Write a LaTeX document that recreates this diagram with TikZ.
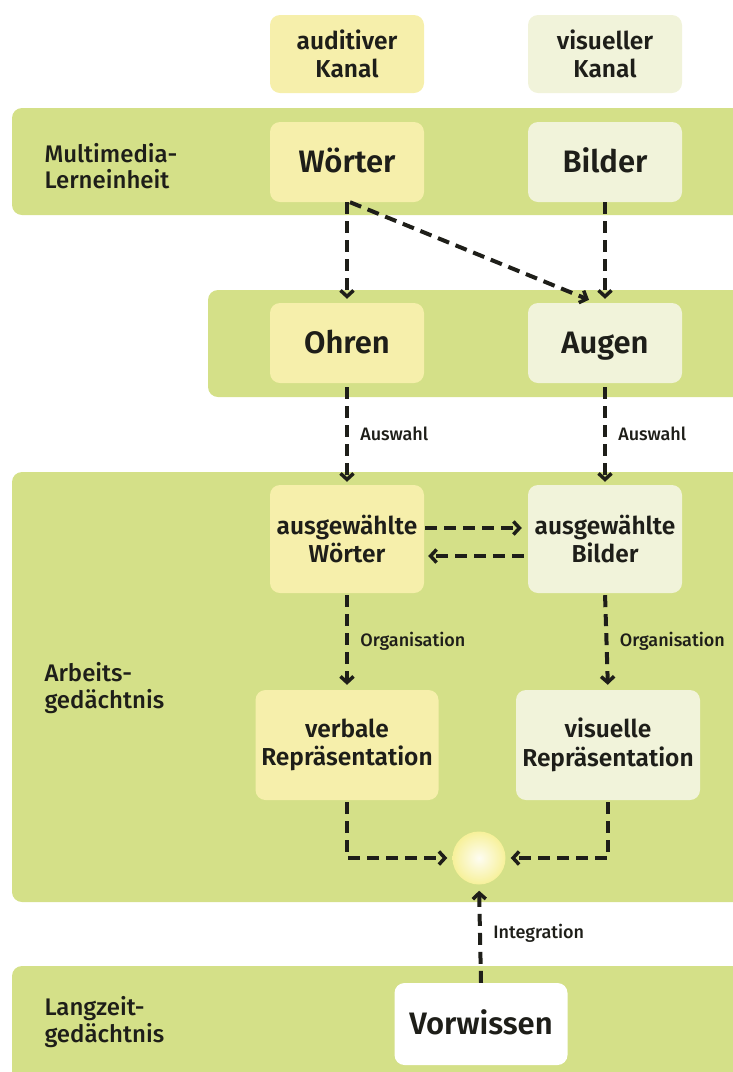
\documentclass[tikz,border=0pt]{standalone}
\usepackage{fontspec}
\setmainfont{Fira Sans}
\newfontfamily\fmed{Fira Sans Medium}
\newfontfamily\fsemi{Fira Sans SemiBold}
\usetikzlibrary{arrows.meta}
\definecolor{band}{RGB}{212,224,136}
\definecolor{ylw}{RGB}{246,239,171}
\definecolor{lgt}{RGB}{241,243,218}
\definecolor{ink}{RGB}{30,30,25}
\begin{document}
\begin{tikzpicture}[x=1pt,y=-1pt,
  box/.style={rounded corners=10pt, inner sep=0pt, align=center, text=ink},
  ybox/.style={box, fill=ylw},
  lbox/.style={box, fill=lgt},
  wbox/.style={box, fill=white},
  big/.style={font=\fsemi\fontsize{31}{36}\selectfont, text height=21pt, text depth=1pt},
  mid/.style={font=\fsemi\fontsize{24.5}{28.5}\selectfont},
  side/.style={font=\fmed\fontsize{24}{26.5}\selectfont, align=left, anchor=west, text=ink},
  lab/.style={font=\fmed\fontsize{18}{20}\selectfont, anchor=west, text=ink, xshift=8pt},
  flow/.style={line width=4pt, dash pattern=on 12pt off 7pt, draw=ink,
    -{Straight Barb[length=6pt,width=13pt,line width=3.5pt]}}
]
\useasboundingbox (0,0) rectangle (733,1072);
\clip (0,0) rectangle (733,1072);
% bands
\fill[band, rounded corners=10pt] (12,108) rectangle (760,215);
\fill[band, rounded corners=10pt] (208,290) rectangle (760,397);
\fill[band, rounded corners=10pt] (12,472) rectangle (760,902);
\fill[band, rounded corners=10pt] (12,966) rectangle (760,1100);
% side labels
\node[side] (lMM) at (41,166) {Multimedia-\\Lerneinheit};
\node[side] (lAG) at (41,688) {Arbeits-\\gedächtnis};
\node[side] (lLZ) at (41,1022) {Langzeit-\\gedächtnis};
% channel boxes
\node[ybox, mid, minimum width=154pt, minimum height=78pt] (kA) at (347,54) {auditiver\\Kanal};
\node[lbox, mid, minimum width=154pt, minimum height=78pt] (kV) at (605,54) {visueller\\Kanal};
% boxes
\node[ybox, big, minimum width=154pt, minimum height=80pt] (woe) at (347,162) {Wörter};
\node[lbox, big, minimum width=154pt, minimum height=80pt] (bil) at (605,162) {Bilder};
\node[ybox, big, minimum width=154pt, minimum height=80pt] (ohr) at (347,343) {Ohren};
\node[lbox, big, minimum width=154pt, minimum height=80pt] (aug) at (605,343) {Augen};
\node[ybox, mid, minimum width=154pt, minimum height=108pt] (aw) at (347,539) {ausgewählte\\Wörter};
\node[lbox, mid, minimum width=154pt, minimum height=108pt] (ab) at (605,539) {ausgewählte\\Bilder};
\node[ybox, mid, minimum width=183pt, minimum height=110pt] (vr) at (347,745) {verbale\\Repräsentation};
\node[lbox, mid, minimum width=184pt, minimum height=110pt] (vi) at (608,745) {visuelle\\Repräsentation};
\node[circle, minimum size=53pt, inner sep=0pt, inner color=white!85!ylw, outer color=ylw!90!yellow] (ci) at (479,858) {};
\node[wbox, big, minimum width=173pt, minimum height=82pt] (vw) at (481,1024) {Vorwissen};
% connectors
\draw[flow, shorten >=4pt] (woe.south) -- (ohr.north);
\draw[flow] ([xshift=3pt]woe.south) -- ([xshift=-16pt,yshift=3pt]aug.north);
\draw[flow, shorten >=4pt] (bil.south) -- (aug.north);
\draw[flow, shorten >=3pt, shorten <=4pt] (ohr.south) -- node[lab] {Auswahl} (aw.north);
\draw[flow, shorten >=3pt, shorten <=4pt] (aug.south) -- node[lab] {Auswahl} (ab.north);
\draw[flow, shorten >=6pt, shorten <=1pt] ([yshift=11pt]aw.east) -- ([yshift=11pt]ab.west);
\draw[flow, shorten >=4pt, shorten <=4pt] ([yshift=-17pt]ab.west) -- ([yshift=-17pt]aw.east);
\draw[flow, shorten >=5pt, shorten <=2pt] (aw.south) -- node[lab] {Organisation} (vr.north);
\draw[flow, shorten >=5pt, shorten <=2pt] (ab.south) -- node[lab] {Organisation} (vi.north);
\draw[flow, shorten >=5pt, shorten <=2pt] (vr.south) |- (ci.west);
\draw[flow, shorten >=5pt, shorten <=2pt] (vi.south) |- (ci.east);
\draw[flow, shorten >=6pt] (vw.north) -- node[lab] {Integration} (ci.south);
\end{tikzpicture}
\end{document}
